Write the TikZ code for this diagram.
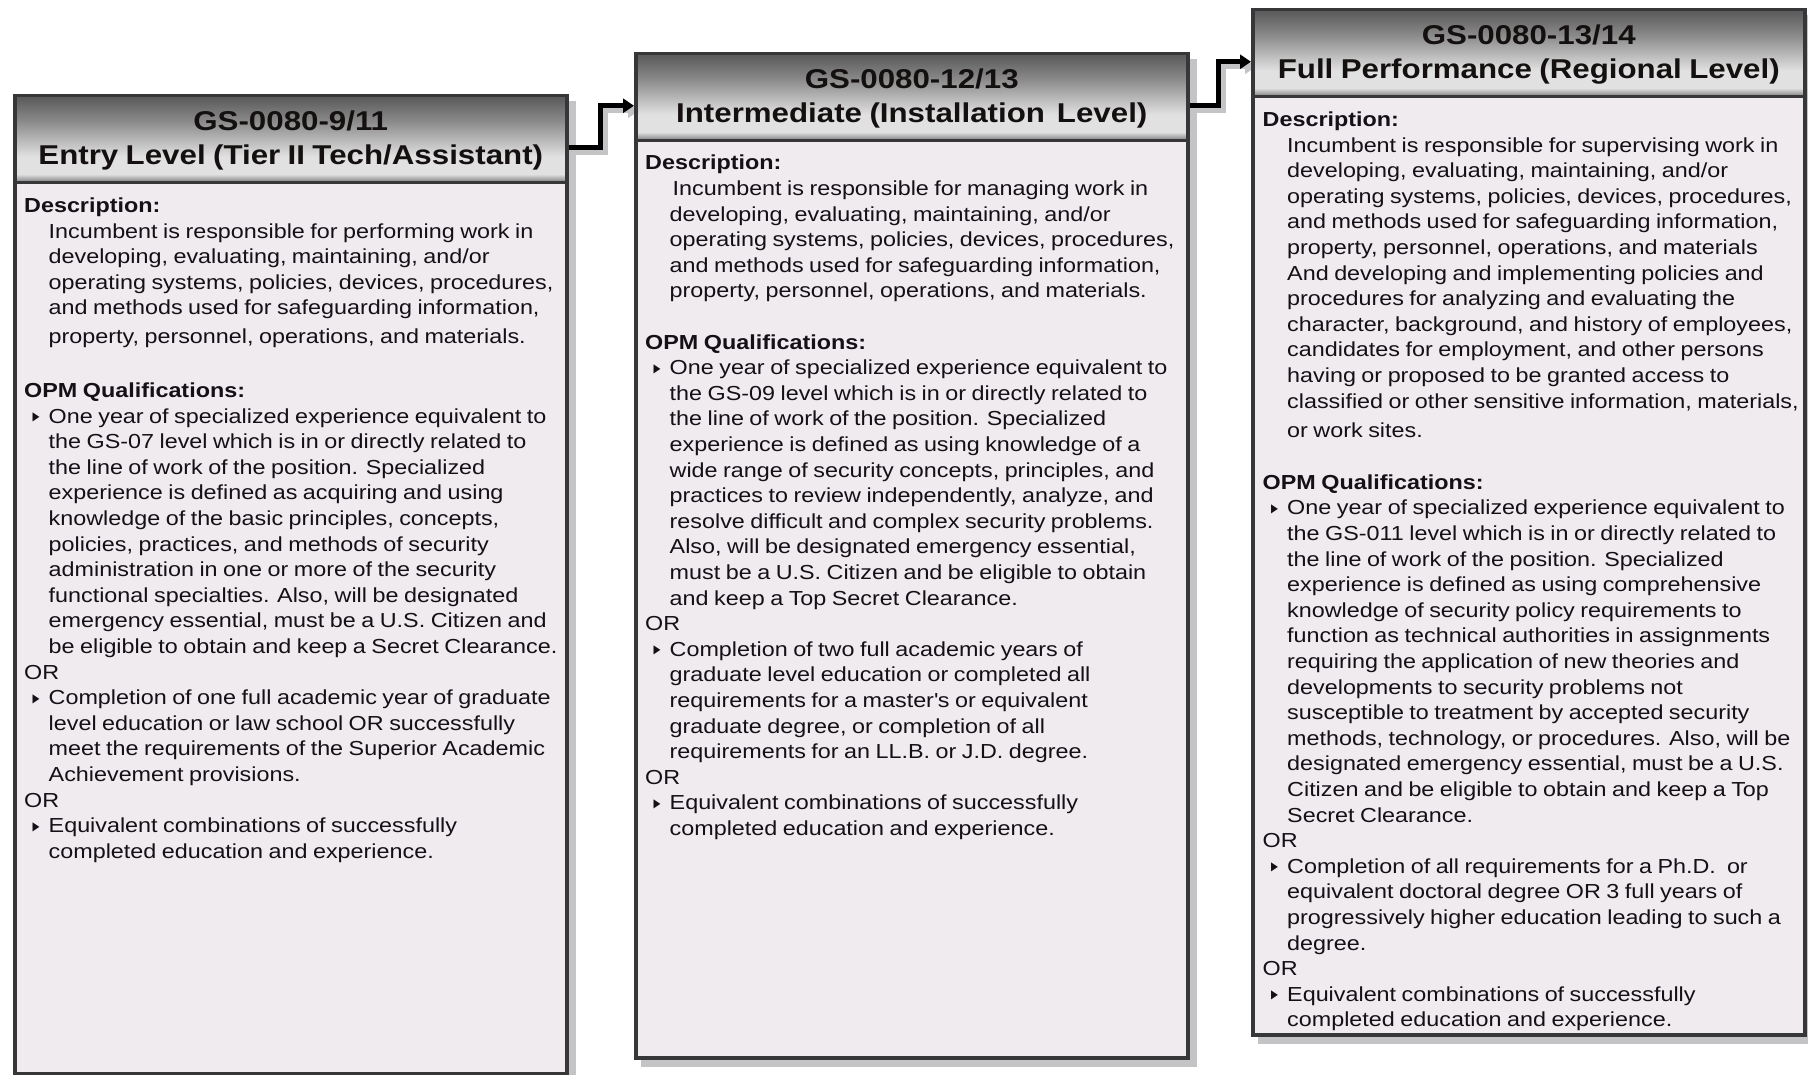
\documentclass[tikz,border=0pt]{standalone}
\usepackage{fontspec}
\setmainfont{Liberation Sans}[FakeStretch=1.15,WordSpace=0.85]
\newfontfamily\bulfont{DejaVu Sans}
\usetikzlibrary{arrows.meta,calc}
\definecolor{bordc}{RGB}{55,55,58}
\definecolor{bodyc}{RGB}{239,235,239}
\definecolor{shadc}{RGB}{196,196,198}
\definecolor{txtc}{RGB}{20,16,22}
\definecolor{ttlc}{RGB}{20,16,16}
\definecolor{hTop}{RGB}{88,88,88}
\definecolor{hMid}{RGB}{140,140,140}
\definecolor{hLight}{RGB}{225,225,225}
\definecolor{hBot}{RGB}{120,120,120}
\pgfdeclareverticalshading{hdrshade}{100bp}{color(0bp)=(hBot); color(25bp)=(hBot); color(30bp)=(hLight); color(40bp)=(hLight); color(60bp)=(hMid); color(75bp)=(hTop); color(100bp)=(hTop)}
\newcommand\bl{\makebox[24.5pt][l]{\hspace*{8.5pt}\raisebox{2.5pt}{\scalebox{0.75}[1]{\bulfont\fontsize{12}{12}\selectfont ▶}}}}
\newcommand\il{\hspace*{24.5pt}}
\newcommand\ttl[2]{\parbox[t]{545pt}{\centering #1\\#2}}
\tikzset{
  hdr/.style={draw=bordc, line width=3.5pt, shade, shading=hdrshade, minimum width=552pt, minimum height=87pt, anchor=north west, inner sep=0pt},
  bodybox/.style={draw=bordc, line width=3.5pt, fill=bodyc, minimum width=552pt, anchor=north west, inner sep=0pt},
  titletext/.style={anchor=base, inner sep=0pt, text=ttlc, font=\fontsize{27.2}{33.5}\selectfont\bfseries},
  bodytext/.style={anchor=base west, inner sep=0pt, text=txtc, font=\fontsize{20.3}{25.6}\selectfont},
  conn/.style={line width=5pt, black, -{Triangle[length=11pt,width=14pt]}},
  connshadow/.style={line width=5pt, shadc, -{Triangle[length=11pt,width=14pt]}},
}
\begin{document}
\begin{tikzpicture}[x=1pt,y=-1pt]
\useasboundingbox (0,0) rectangle (1808,1075);
\fill[white] (0,0) rectangle (1808,1075);

% placement nodes (used for shadows and connectors)
\path (13,94) node[hdr, draw=none, shade=false, fill=none] (h1) {};
\path (13,181) node[bodybox, draw=none, fill=none, minimum height=891pt] (b1) {};
\path (634,52) node[hdr, draw=none, shade=false, fill=none] (h2) {};
\path (634,139) node[bodybox, draw=none, fill=none, minimum height=917pt] (b2) {};
\path (1251,8) node[hdr, draw=none, shade=false, fill=none] (h3) {};
\path (1251,95) node[bodybox, draw=none, fill=none, minimum height=938pt] (b3) {};

% shadows
\fill[shadc] ([xshift=7pt,yshift=-7pt]h1.north west) rectangle ([xshift=7pt,yshift=-7pt]b1.south east);
\fill[shadc] ([xshift=7pt,yshift=-7pt]h2.north west) rectangle ([xshift=7pt,yshift=-7pt]b2.south east);
\fill[shadc] ([xshift=7pt,yshift=-7pt]h3.north west) rectangle ([xshift=7pt,yshift=-7pt]b3.south east);
\draw[connshadow] ([xshift=5pt,yshift=-13.5pt]h1.east) -- ++(32,0) |- ([xshift=5pt,yshift=-13.5pt]h2.west);
\draw[connshadow] ([xshift=5pt,yshift=-13.5pt]h2.east) -- ++(29,0) |- ([xshift=5pt,yshift=-13.5pt]h3.west);

% visible boxes
\node[bodybox, minimum height=891pt] (b1v) at (13,181) {};
\node[hdr] (h1v) at (13,94) {};
\node[bodybox, minimum height=917pt] (b2v) at (634,139) {};
\node[hdr] (h2v) at (634,52) {};
\node[bodybox, minimum height=938pt] (b3v) at (1251,95) {};
\node[hdr] (h3v) at (1251,8) {};

% connectors
\draw[conn] ([yshift=-8.5pt]h1.east) -- ++(32,0) |- ([yshift=-8.5pt]h2.west);
\draw[conn] ([yshift=-8.5pt]h2.east) -- ++(29,0) |- ([yshift=-8.5pt]h3.west);

% titles
\node[titletext] (t1) at ($(h1.north)+(0,37)$) {\ttl{GS-0080-9/11}{Entry Level (Tier II Tech/Assistant)}};
\node[titletext] (t2) at ($(h2.north)+(0,37)$) {\ttl{GS-0080-12/13}{Intermediate (Installation\ \,Level)}};
\node[titletext] (t3) at ($(h3.north)+(0,37)$) {\ttl{GS-0080-13/14}{Full Performance (Regional Level)}};

% body texts
\node[bodytext] (d1) at ($(b1.north west)+(11,31.5)$) {\parbox[t]{570pt}{%
\textbf{Description:}\\
\il Incumbent is responsible for performing work in\\
\il developing, evaluating, maintaining, and/or\\
\il operating systems, policies, devices, procedures,\\
\il and methods used for safeguarding information,\\[3pt]
\il property, personnel, operations, and materials.\\[28.4pt]
\textbf{OPM Qualifications:}\\
\bl One year of specialized experience equivalent to\\
\il the GS-07 level which is in or directly related to\\
\il the line of work of the position. Specialized\\
\il experience is defined as acquiring and using\\
\il knowledge of the basic principles, concepts,\\
\il policies, practices, and methods of security\\
\il administration in one or more of the security\\
\il functional specialties. Also, will be designated\\
\il emergency essential, must be a U.S. Citizen and\\
\il be eligible to obtain and keep a Secret Clearance.\\
OR\\
\bl Completion of one full academic year of graduate\\
\il level education or law school OR successfully\\
\il meet the requirements of the Superior Academic\\
\il Achievement provisions.\\
OR\\
\bl Equivalent combinations of successfully\\
\il completed education and experience.}};

\node[bodytext] (d2) at ($(b2.north west)+(11,31)$) {\parbox[t]{570pt}{%
\textbf{Description:}\\
\il\hspace*{3pt}Incumbent is responsible for managing work in\\
\il developing, evaluating, maintaining, and/or\\
\il operating systems, policies, devices, procedures,\\
\il and methods used for safeguarding information,\\
\il property, personnel, operations, and materials.\\[25.6pt]
\textbf{OPM Qualifications:}\\
\bl One year of specialized experience equivalent to\\
\il the GS-09 level which is in or directly related to\\
\il the line of work of the position. Specialized\\
\il experience is defined as using knowledge of a\\
\il wide range of security concepts, principles, and\\
\il practices to review independently, analyze, and\\
\il resolve difficult and complex security problems.\\
\il Also, will be designated emergency essential,\\
\il must be a U.S. Citizen and be eligible to obtain\\
\il and keep a Top Secret Clearance.\\
OR\\
\bl Completion of two full academic years of\\
\il graduate level education or completed all\\
\il requirements for a master\textquotesingle s or equivalent\\
\il graduate degree, or completion of all\\
\il requirements for an LL.B. or J.D. degree.\\
OR\\
\bl Equivalent combinations of successfully\\
\il completed education and experience.}};

\node[bodytext] (d3) at ($(b3.north west)+(11.5,31.5)$) {\parbox[t]{570pt}{%
\textbf{Description:}\\
\il Incumbent is responsible for supervising work in\\
\il developing, evaluating, maintaining, and/or\\
\il operating systems, policies, devices, procedures,\\
\il and methods used for safeguarding information,\\
\il property, personnel, operations, and materials\\
\il And developing and implementing policies and\\
\il procedures for analyzing and evaluating the\\
\il character, background, and history of employees,\\
\il candidates for employment, and other persons\\
\il having or proposed to be granted access to\\
\il classified or other sensitive information, materials,\\[4pt]
\il or work sites.\\[26pt]
\textbf{OPM Qualifications:}\\
\bl One year of specialized experience equivalent to\\
\il the GS-011 level which is in or directly related to\\
\il the line of work of the position. Specialized\\
\il experience is defined as using comprehensive\\
\il knowledge of security policy requirements to\\
\il function as technical authorities in assignments\\
\il requiring the application of new theories and\\
\il developments to security problems not\\
\il susceptible to treatment by accepted security\\
\il methods, technology, or procedures. Also, will be\\
\il designated emergency essential, must be a U.S.\\
\il Citizen and be eligible to obtain and keep a Top\\
\il Secret Clearance.\\
OR\\
\bl Completion of all requirements for a Ph.D.\ \ or\\
\il equivalent doctoral degree OR 3 full years of\\
\il progressively higher education leading to such a\\
\il degree.\\
OR\\
\bl Equivalent combinations of successfully\\
\il completed education and experience.}};
\end{tikzpicture}
\end{document}
